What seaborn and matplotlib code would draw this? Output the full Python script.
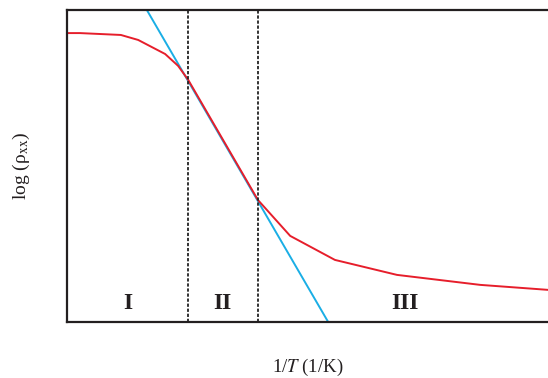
import matplotlib
matplotlib.use("Agg")
import matplotlib.pyplot as plt
import seaborn as sns
import pandas as pd

# Resistivity curve (arbitrary units): inverse temperature vs log resistivity
inv_T = [0.0, 0.27, 1.12, 1.48, 2.04, 2.31, 2.52, 3.97, 4.64, 5.57, 6.86, 8.59, 10.0]
log_rho = [9.26, 9.26, 9.20, 9.04, 8.59, 8.21, 7.76, 3.91, 2.76, 1.99, 1.51, 1.19, 1.03]

# Activated (linear) fit through region II
fit_x = [1.66, 5.43]
fit_y = [10.0, 0.0]

# Region boundaries and labels
boundaries = [2.52, 3.97]
region_labels = ["I", "II", "III"]
region_x = [1.27, 3.22, 7.03]
region_y = 0.6

sns.set_style("white")
plt.rcParams["font.family"] = ["Liberation Serif", "DejaVu Serif"]
plt.rcParams["mathtext.fontset"] = "stix"

fig = plt.figure(figsize=(5.48, 3.78), dpi=100)
ax = fig.add_axes([67 / 548, 56 / 378, 1 - 67 / 548, 312 / 378])

df = pd.DataFrame({"x": inv_T, "y": log_rho})
fit = pd.DataFrame({"x": fit_x, "y": fit_y})

sns.lineplot(data=fit, x="x", y="y", ax=ax, color="#1aaee5", lw=1.4, sort=False)
sns.lineplot(data=df, x="x", y="y", ax=ax, color="#e61e2b", lw=1.4, sort=False)

for b in boundaries:
    ax.axvline(b, color="#222222", lw=1.3, ls=(0, (1.8, 1.0)))

for lab, xp in zip(region_labels, region_x):
    ax.text(xp, region_y, lab, ha="center", va="center", fontsize=17,
            fontweight="bold", color="#231f20")

ax.set_xlim(0, 10)
ax.set_ylim(0, 10)
ax.set_xticks([])
ax.set_yticks([])
ax.set_xlabel(r"1/$\mathit{T}$ (1/K)", fontsize=13.5, color="#231f20", labelpad=25)
ax.set_ylabel(r"log (ρ$_\mathrm{xx}$)", fontsize=14, color="#231f20", labelpad=25)

for side in ["left", "top", "bottom"]:
    ax.spines[side].set_color("#231f20")
    ax.spines[side].set_linewidth(1.6)
ax.spines["right"].set_visible(False)

fig.savefig("out.png", dpi=100)
